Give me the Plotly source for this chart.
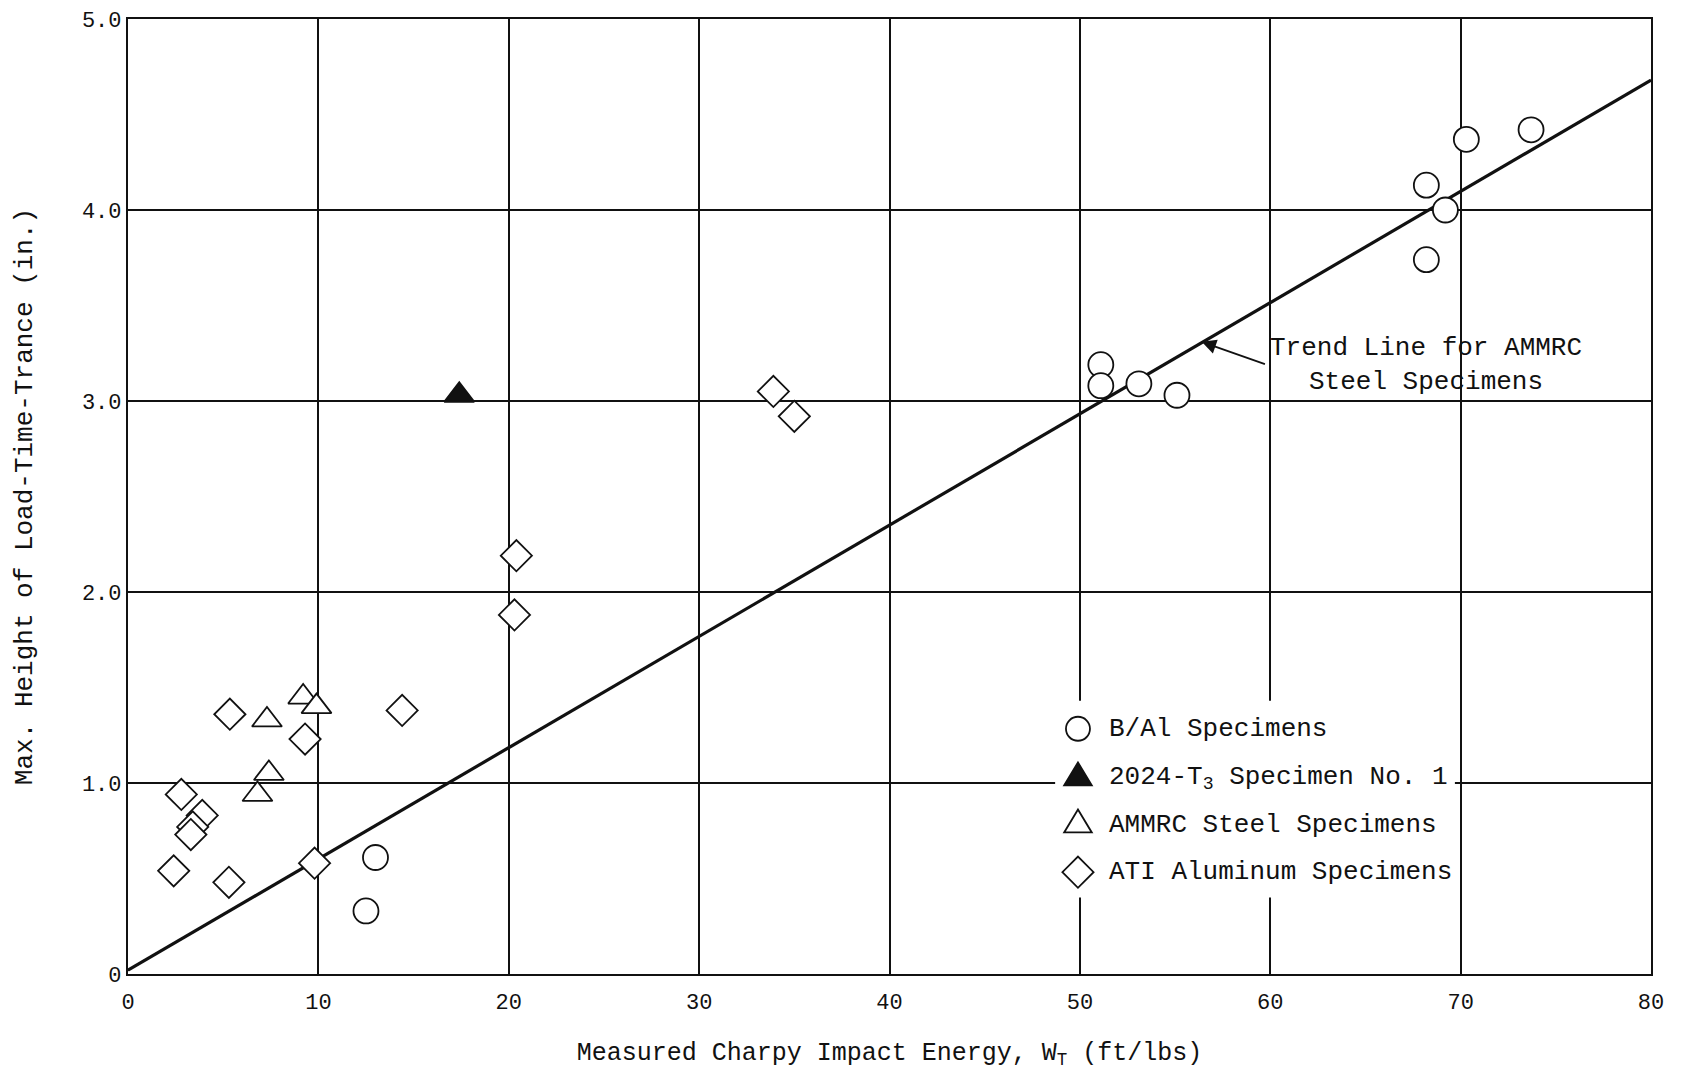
import plotly.graph_objects as go

# ---- data ----
bal_x = [51.1, 51.1, 53.1, 55.1, 68.2, 68.2, 69.2, 70.3, 73.7, 13.0, 12.5]
bal_y = [3.19, 3.08, 3.09, 3.03, 4.13, 3.74, 4.00, 4.37, 4.42, 0.61, 0.33]

t3_x = [17.4]
t3_y = [3.03]

ammrc_x = [9.2, 9.9, 7.3, 7.4, 6.8]
ammrc_y = [1.45, 1.40, 1.33, 1.05, 0.94]

ati_x = [5.35, 9.3, 14.4, 2.8, 3.9, 3.4, 3.3, 2.4, 5.3, 9.8, 20.4, 20.3, 33.9, 35.0]
ati_y = [1.36, 1.23, 1.38, 0.94, 0.83, 0.77, 0.73, 0.54, 0.48, 0.58, 2.19, 1.88, 3.05, 2.92]

trend_x = [0, 80]
trend_y = [0.02, 4.68]

x_ticks = [0, 10, 20, 30, 40, 50, 60, 70, 80]
x_tick_text = ["0", "10", "20", "30", "40", "50", "60", "70", "80"]
y_ticks = [0, 1, 2, 3, 4, 5]
y_tick_text = ["0", "1.0", "2.0", "3.0", "4.0", "5.0"]

legend_labels = ["B/Al Specimens", "2024-T<sub>3</sub> Specimen No. 1",
                 "AMMRC Steel Specimens", "ATI Aluminum Specimens"]

FONT = "Liberation Mono"
INK = "#111111"

fig = go.Figure()

fig.add_trace(go.Scatter(x=trend_x, y=trend_y, mode="lines",
                         line=dict(color=INK, width=3.2), showlegend=False, hoverinfo="skip"))

mk_line = dict(color=INK, width=1.8)
fig.add_trace(go.Scatter(x=ati_x, y=ati_y, mode="markers", showlegend=False,
                         marker=dict(symbol="diamond", size=24, color="white", line=mk_line)))
fig.add_trace(go.Scatter(x=ammrc_x, y=ammrc_y, mode="markers", showlegend=False,
                         marker=dict(symbol="triangle-up", size=26, color="white", line=mk_line)))
fig.add_trace(go.Scatter(x=bal_x, y=bal_y, mode="markers", showlegend=False,
                         marker=dict(symbol="circle", size=25, color="white", line=mk_line)))
fig.add_trace(go.Scatter(x=t3_x, y=t3_y, mode="markers", showlegend=False,
                         marker=dict(symbol="triangle-up", size=26, color=INK, line=mk_line)))

# ---- hand-drawn style legend box ----
shapes = [dict(type="rect", xref="x", yref="y", x0=48.7, x1=69.7, y0=0.40, y1=1.43,
               fillcolor="white", line=dict(width=0), layer="above")]
leg_x = 49.9
leg_rows = [1.284, 1.026, 0.78, 0.533]
r = 12
tri = f"M-{r*1.15:.1f},-{r*0.62:.1f} L{r*1.15:.1f},-{r*0.62:.1f} L0,{r*1.3:.1f} Z"
dia = f"M-{r*1.3:.1f},0 L0,-{r*1.3:.1f} L{r*1.3:.1f},0 L0,{r*1.3:.1f} Z"
common = dict(xref="x", yref="y", xsizemode="pixel", ysizemode="pixel", layer="above",
              xanchor=leg_x)
shapes.append(dict(type="circle", x0=-r, x1=r, y0=-r, y1=r, yanchor=leg_rows[0],
                   line=dict(color=INK, width=1.8), fillcolor="white", **common))
shapes.append(dict(type="path", path=tri, yanchor=leg_rows[1],
                   line=dict(color=INK, width=1.8), fillcolor=INK, **common))
shapes.append(dict(type="path", path=tri, yanchor=leg_rows[2],
                   line=dict(color=INK, width=1.8), fillcolor="white", **common))
shapes.append(dict(type="path", path=dia, yanchor=leg_rows[3],
                   line=dict(color=INK, width=1.8), fillcolor="white", **common))

annotations = []
for lab, yy in zip(legend_labels, leg_rows):
    annotations.append(dict(x=51.4, y=yy, xref="x", yref="y", text=lab, showarrow=False,
                            xanchor="left", yanchor="middle",
                            font=dict(family=FONT, size=26, color=INK)))

annotations.append(dict(x=68.2, y=3.19, xref="x", yref="y",
                        text="Trend Line for AMMRC<br>Steel Specimens", showarrow=False,
                        align="center", xanchor="center", yanchor="middle",
                        font=dict(family=FONT, size=26, color=INK)))
annotations.append(dict(x=56.4, y=3.31, xref="x", yref="y", ax=59.8, ay=3.19,
                        axref="x", ayref="y", text="", showarrow=True,
                        arrowhead=2, arrowsize=1.6, arrowwidth=1.8, arrowcolor=INK))

fig.update_layout(
    width=1681, height=1072,
    margin=dict(l=128, r=30, t=19, b=98),
    paper_bgcolor="white", plot_bgcolor="white",
    font=dict(family=FONT, color=INK),
    shapes=shapes, annotations=annotations, showlegend=False,
)
fig.update_xaxes(range=[0, 80], tickvals=x_ticks, ticktext=x_tick_text,
                 showgrid=True, gridcolor=INK, gridwidth=1.6,
                 showline=True, linecolor=INK, linewidth=2.2, mirror=True,
                 zeroline=False, ticks="", ticklabelstandoff=6, automargin=False,
                 tickfont=dict(family=FONT, size=22, color=INK),
                 title=dict(text="Measured Charpy Impact Energy, W<sub>T</sub> (ft/lbs)",
                            font=dict(family=FONT, size=25, color=INK), standoff=28))
fig.update_yaxes(range=[0, 5], tickvals=y_ticks, ticktext=y_tick_text,
                 showgrid=True, gridcolor=INK, gridwidth=1.6,
                 showline=True, linecolor=INK, linewidth=2.2, mirror=True,
                 zeroline=False, ticks="", automargin=False,
                 tickfont=dict(family=FONT, size=22, color=INK),
                 title=dict(text="Max. Height of Load-Time-Trance (in.)",
                            font=dict(family=FONT, size=26, color=INK), standoff=42))

fig.write_html("out.html", config={"displayModeBar": False},
               post_script="document.body.style.margin='0';document.body.style.overflow='hidden';")
